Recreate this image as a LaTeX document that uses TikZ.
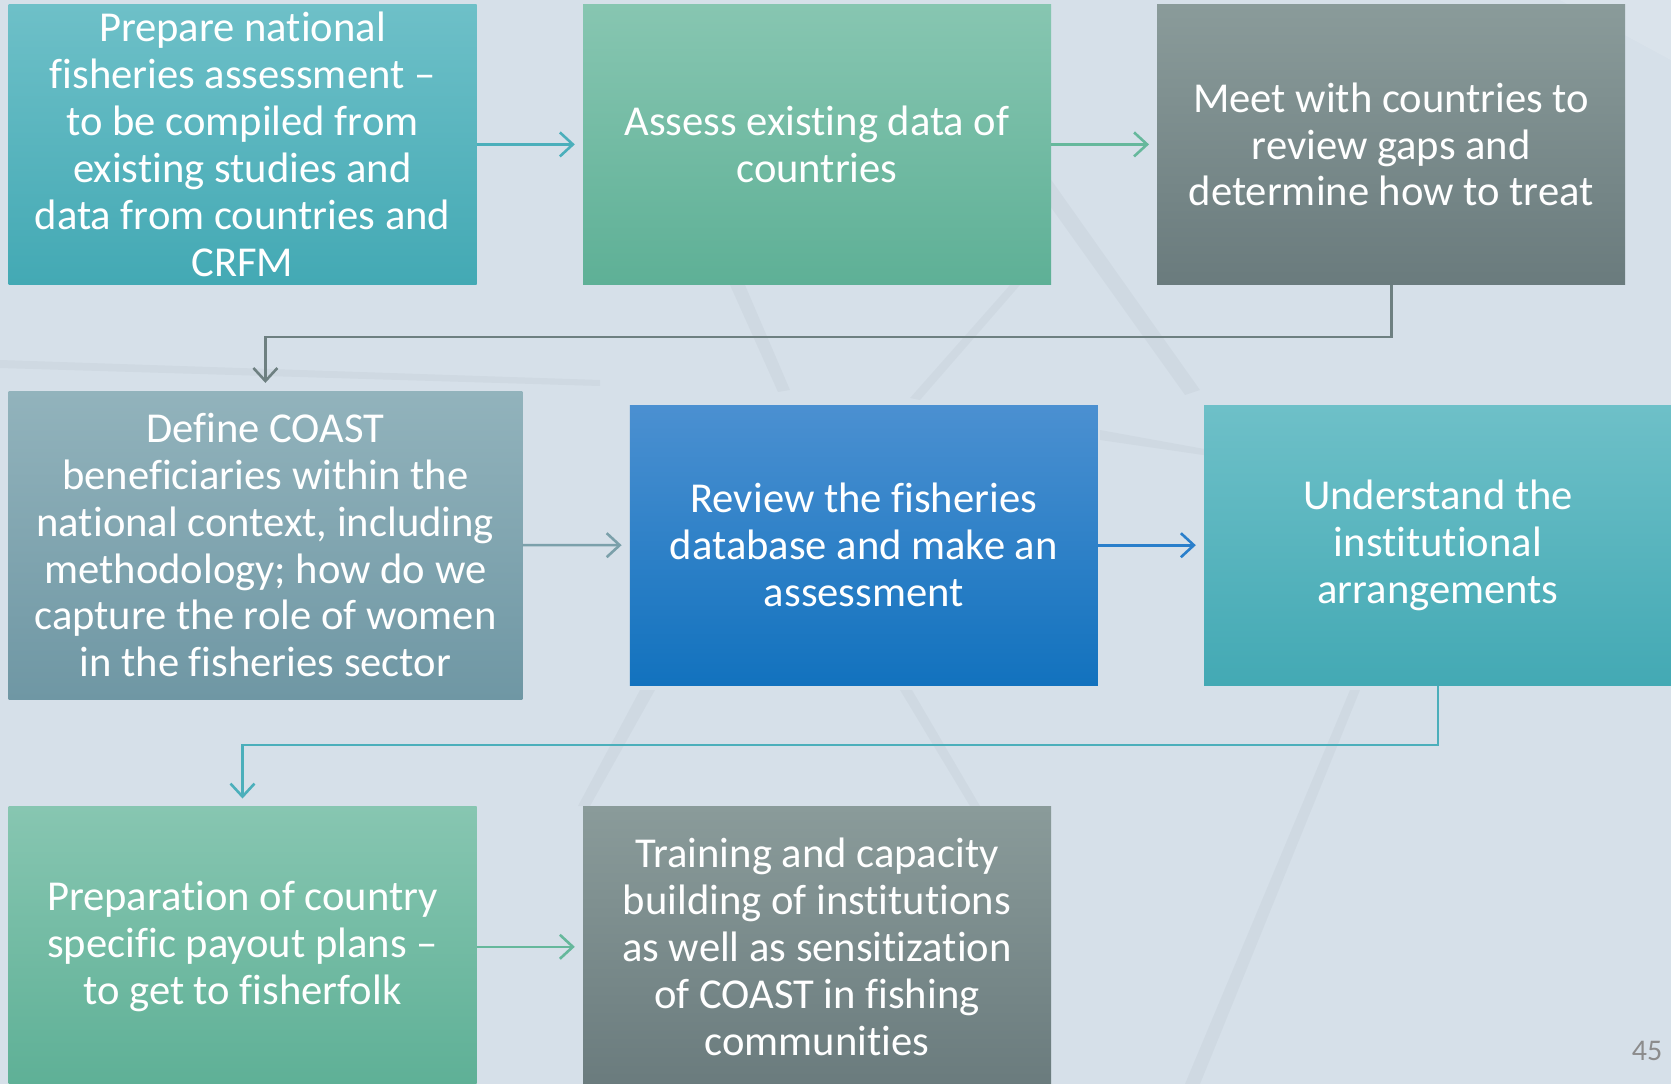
\documentclass[tikz,border=0pt]{standalone}
\usepackage{fontspec}
\setmainfont[Ligatures={TeX,NoCommon}]{Carlito}
\usetikzlibrary{arrows.meta,calc}
\definecolor{bg}{HTML}{D6E0E9}
\definecolor{tealT}{HTML}{6EC0C8}\definecolor{tealB}{HTML}{43A9B4}
\definecolor{greenT}{HTML}{87C6B1}\definecolor{greenB}{HTML}{5EB096}
\definecolor{greyT}{HTML}{8A9B9A}\definecolor{greyB}{HTML}{6A7B7D}
\definecolor{slateT}{HTML}{92B3BC}\definecolor{slateB}{HTML}{6F97A4}
\definecolor{blueT}{HTML}{4B90D1}\definecolor{blueB}{HTML}{1272BE}
\definecolor{aTeal}{HTML}{4BAFBB}\definecolor{aGreen}{HTML}{66B89C}
\definecolor{aGrey}{HTML}{6E8081}\definecolor{aSlate}{HTML}{7BA0AA}
\definecolor{aBlue}{HTML}{2A7FCB}
\tikzset{
  box/.style={rectangle, inner sep=0pt, minimum width=468pt, minimum height=280.2pt,
    align=center, text=white, font=\fontsize{42.6}{46.9}\selectfont},
  teal/.style={box, top color=tealT, bottom color=tealB},
  green/.style={box, top color=greenT, bottom color=greenB},
  grey/.style={box, top color=greyT, bottom color=greyB},
  slate/.style={box, top color=slateT, bottom color=slateB},
  blue/.style={box, top color=blueT, bottom color=blueB},
  conn/.style={line width=2.6pt, -{Straight Barb[length=13pt,width=24pt,line width=2.6pt]}, shorten >=8pt},
  streak/.style={fill=white, opacity=0.12},
  dstreak/.style={fill=black!40!bg, opacity=0.07}
}
\begin{document}
\begin{tikzpicture}[x=1pt,y=-1pt]
\fill[bg] (0,0) rectangle (1671,1084);
\useasboundingbox (0,0) rectangle (1671,1084);
% faint background streaks
\fill[dstreak] (1010,150) -- (1030,150) -- (1200,390) -- (1185,395) -- cycle;
\fill[dstreak] (730,285) -- (745,285) -- (790,390) -- (778,392) -- cycle;
\fill[dstreak] (1010,285) -- (1020,285) -- (920,400) -- (910,398) -- cycle;
\fill[dstreak] (0,360) -- (600,380) -- (600,386) -- (0,368) -- cycle;
\fill[dstreak] (1100,430) -- (1210,450) -- (1210,456) -- (1100,440) -- cycle;
\fill[dstreak] (1350,690) -- (1360,690) -- (1200,1084) -- (1185,1084) -- cycle;
\fill[dstreak] (640,690) -- (655,690) -- (590,806) -- (578,806) -- cycle;
\fill[dstreak] (900,690) -- (912,690) -- (980,806) -- (970,806) -- cycle;
\fill[streak] (1560,0) -- (1671,0) -- (1671,60) -- cycle;

\node[teal] (b1) at (242.5,144.4) {Prepare national\\fisheries assessment –\\to be compiled from\\existing studies and\\data from countries and\\CRFM};
\node[green] (b2) at (817,144.4) {Assess existing data of\\countries};
\node[grey] (b3) at (1391.2,144.4) {Meet with countries to\\review gaps and\\determine how to treat};
\node[slate, minimum width=513.7pt, minimum height=308pt] (b4) at (265.4,545.1) {Define COAST\\beneficiaries within the\\national context, including\\methodology; how do we\\capture the role of women\\in the fisheries sector};
\node[blue] (b5) at (863.8,545.2) {Review the fisheries\\database and make an\\assessment};
\node[teal] (b6) at (1438,545.2) {Understand the\\institutional\\arrangements};
\node[green] (b7) at (242.5,946.8) {Preparation of country\\specific payout plans –\\to get to fisherfolk};
\node[grey] (b8) at (817,946.8) {Training and capacity\\building of institutions\\as well as sensitization\\of COAST in fishing\\communities};
\node[text=black!45, font=\fontsize{30}{36}\selectfont, anchor=center] (pg) at (1647,1051) {45};

\coordinate (k1) at (0,336.8);
\coordinate (k2) at (0,744.9);
\draw[conn, aTeal] (b1.east) -- (b2.west);
\draw[conn, aGreen] (b2.east) -- (b3.west);
\draw[conn, aGrey] (b3.south) -- (b3.south |- k1) -- (b4.north |- k1) -- (b4.north);
\draw[conn, aSlate] (b4.east) -- (b5.west);
\draw[conn, aBlue] (b5.east) -- (b6.west);
\draw[conn, aTeal] (b6.south) -- (b6.south |- k2) -- (b7.north |- k2) -- (b7.north);
\draw[conn, aGreen] (b7.east) -- (b8.west);
\end{tikzpicture}
\end{document}
